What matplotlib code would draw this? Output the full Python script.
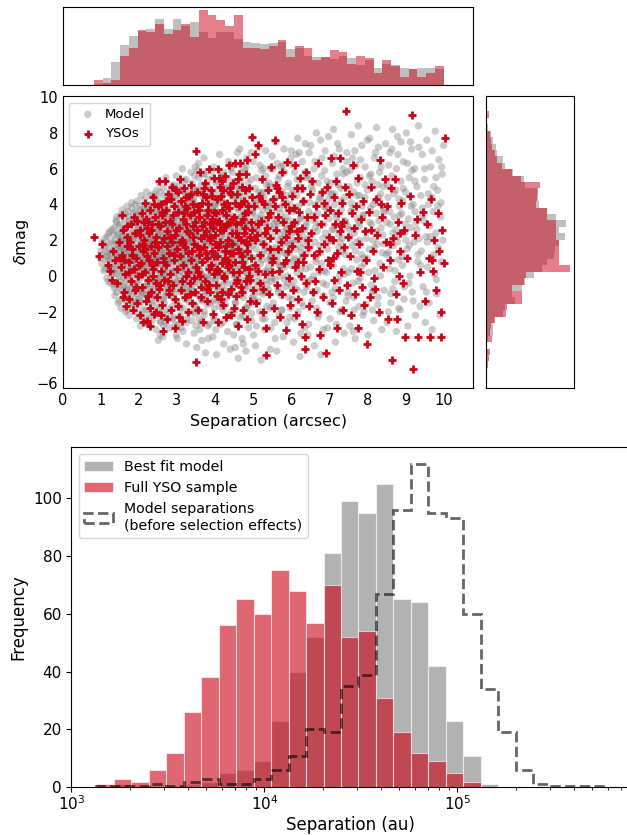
import matplotlib
matplotlib.use("Agg")
import matplotlib.pyplot as plt
import numpy as np

# ---- scatter: model points (separation in arcsec, delta mag) ----
model_points = [
    (0.98,1.0),(1.00,1.4),(1.02,0.7),(1.04,1.9),(1.06,1.2),(1.08,0.3),(1.10,1.6),(1.12,2.1),(1.14,0.9),(1.16,-0.1),
    (1.18,1.3),(1.20,2.4),(1.22,0.5),(1.24,1.8),(1.26,-0.4),(1.28,1.0),(1.30,2.6),(1.32,0.2),(1.34,1.5),(1.36,-0.7),
    (1.38,2.0),(1.39,0.8),
    (1.40,1.2),(1.41,3.0),(1.42,-0.9),(1.43,0.4),(1.44,2.3),(1.45,-1.5),(1.46,1.7),(1.47,0.0),(1.48,2.8),(1.49,0.9),
    (1.50,-0.3),(1.51,3.4),(1.52,1.4),(1.53,-1.8),(1.54,2.0),(1.55,0.6),(1.56,3.7),(1.57,-0.6),(1.58,1.0),(1.59,2.5),
    (1.60,-1.2),(1.61,0.2),(1.62,3.2),(1.63,1.9),(1.64,-2.0),(1.65,0.8),(1.66,2.7),(1.67,-0.2),(1.68,1.5),(1.69,3.9),
    (1.70,0.5),(1.71,-1.0),(1.72,2.2),(1.73,1.1),(1.74,-2.2),(1.75,3.1),(1.76,0.1),(1.77,1.8),(1.78,-0.7),(1.79,2.9),
    (1.80,1.3),(1.81,4.1),(1.82,-1.6),(1.83,0.7),(1.84,2.4),(1.85,-0.4),(1.86,3.5),(1.87,1.6),(1.88,-1.3),(1.89,0.3),
    (1.44,1.0),(1.52,2.1),(1.60,0.9),(1.68,-0.8),(1.76,2.0),(1.84,1.2),(1.48,1.6),(1.64,1.3),(1.80,0.4),(1.72,3.6),
    (1.90,2.1),(1.91,-0.5),(1.92,3.6),(1.93,0.8),(1.94,-2.4),(1.95,1.6),(1.96,4.2),(1.97,0.0),(1.98,2.7),(1.99,-1.3),
    (2.00,1.2),(2.01,3.3),(2.02,-0.2),(2.03,2.2),(2.04,-2.8),(2.05,0.6),(2.06,4.5),(2.07,1.9),(2.08,-0.9),(2.09,3.0),
    (2.10,0.3),(2.11,-1.9),(2.12,2.5),(2.13,1.0),(2.14,3.8),(2.15,-0.6),(2.16,1.7),(2.17,-2.6),(2.18,2.9),(2.19,0.4),
    (2.20,4.7),(2.21,1.4),(2.22,-1.1),(2.23,2.0),(2.24,-0.1),(2.25,3.5),(2.26,0.9),(2.27,-2.1),(2.28,2.6),(2.29,1.3),
    (2.30,4.0),(2.31,-0.7),(2.32,0.2),(2.33,3.1),(2.34,-1.6),(2.35,1.8),(2.36,2.4),(2.37,-0.3),(2.38,4.4),(2.39,1.1),
    (1.93,1.3),(1.97,2.4),(2.01,0.5),(2.05,-1.5),(2.09,1.6),(2.13,2.8),(2.17,0.7),(2.21,3.2),(2.25,-0.4),(2.29,2.1),
    (2.33,1.5),(2.37,0.6),(1.95,-1.0),(2.03,3.9),(2.11,-0.8),(2.19,1.9),(2.27,3.7),(2.35,-2.5),(1.99,0.1),(2.07,2.3),
    (2.15,1.2),(2.23,-2.7),
    (2.40,1.5),(2.41,-1.2),(2.42,3.9),(2.43,0.4),(2.44,2.7),(2.45,-3.0),(2.46,1.0),(2.47,4.8),(2.48,-0.5),(2.49,2.2),
    (2.50,0.9),(2.51,3.4),(2.52,-1.9),(2.53,1.7),(2.54,5.2),(2.55,-0.1),(2.56,2.5),(2.57,-2.6),(2.58,0.6),(2.59,4.1),
    (2.60,1.3),(2.61,-0.9),(2.62,3.0),(2.63,-3.4),(2.64,2.0),(2.65,0.2),(2.66,4.5),(2.67,-1.5),(2.68,1.1),(2.69,2.9),
    (2.70,-0.3),(2.71,5.5),(2.72,1.8),(2.73,-2.2),(2.74,0.7),(2.75,3.6),(2.76,-1.0),(2.77,2.3),(2.78,0.0),(2.79,4.3),
    (2.80,1.4),(2.81,-2.9),(2.82,2.8),(2.83,0.5),(2.84,-0.7),(2.85,3.2),(2.86,1.9),(2.87,-1.7),(2.88,5.0),(2.89,0.8),
    (2.42,2.1),(2.46,-0.2),(2.50,3.7),(2.54,1.2),(2.58,-1.3),(2.62,2.4),(2.66,0.3),(2.70,3.3),(2.74,-0.6),(2.78,1.6),
    (2.82,4.7),(2.86,-0.4),(2.44,0.9),(2.52,2.6),(2.60,-2.0),(2.68,3.8),(2.76,1.0),(2.84,2.1),(2.48,4.4),(2.56,-3.3),
    (2.64,1.5),(2.72,-1.1),(2.80,2.6),(2.88,-2.4),(2.45,3.1),(2.55,0.1),(2.65,-2.8),(2.75,2.0),(2.85,1.3),(2.51,-3.6),
    (2.90,2.4),(2.91,-1.0),(2.92,4.5),(2.93,0.3),(2.94,1.8),(2.95,-2.7),(2.96,3.3),(2.97,0.9),(2.98,5.6),(2.99,-0.4),
    (3.00,2.0),(3.01,-3.5),(3.02,1.2),(3.03,4.0),(3.04,-1.6),(3.05,2.7),(3.06,0.0),(3.07,5.1),(3.08,1.5),(3.09,-2.2),
    (3.10,3.6),(3.11,0.6),(3.12,-0.8),(3.13,2.3),(3.14,6.0),(3.15,1.0),(3.16,-3.1),(3.17,3.0),(3.18,-0.2),(3.19,4.7),
    (3.20,1.7),(3.21,-1.3),(3.22,2.6),(3.23,0.4),(3.24,5.4),(3.25,-3.8),(3.26,1.4),(3.27,3.9),(3.28,-0.6),(3.29,2.1),
    (3.30,0.8),(3.31,-2.0),(3.32,4.3),(3.33,1.9),(3.34,-1.1),(3.35,3.2),(3.36,0.1),(3.37,5.8),(3.38,2.5),(3.39,-2.5),
    (2.92,1.4),(2.96,-0.1),(3.00,3.8),(3.04,2.2),(3.08,-1.8),(3.12,1.1),(3.16,4.2),(3.20,-0.5),(3.24,2.8),(3.28,1.6),
    (3.32,-1.5),(3.36,3.5),(2.94,4.9),(3.02,-0.7),(3.10,2.9),(3.18,1.3),(3.26,-2.4),(3.34,0.5),(2.98,-3.3),(3.06,3.4),
    (3.14,0.2),(3.22,4.6),(3.30,-0.9),(3.38,1.0),(2.91,3.1),(3.01,1.7),(3.11,-2.9),(3.21,0.7),(3.31,2.4),(3.39,4.8),
    (3.40,1.9),(3.41,-0.8),(3.42,4.1),(3.43,0.5),(3.44,2.8),(3.45,-3.2),(3.46,1.2),(3.47,5.6),(3.48,-1.7),(3.49,3.3),
    (3.50,0.2),(3.51,2.4),(3.52,-4.0),(3.53,4.8),(3.54,1.0),(3.55,-0.4),(3.56,3.0),(3.57,6.3),(3.58,-2.4),(3.59,1.6),
    (3.60,0.7),(3.61,3.8),(3.62,-1.2),(3.63,2.2),(3.64,5.1),(3.65,-3.6),(3.66,0.0),(3.67,2.7),(3.68,4.4),(3.69,-0.6),
    (3.70,1.4),(3.71,6.6),(3.72,-2.0),(3.73,3.5),(3.74,0.9),(3.75,-4.3),(3.76,2.0),(3.77,4.9),(3.78,-1.0),(3.79,1.1),
    (3.80,3.1),(3.81,-2.8),(3.82,0.4),(3.83,5.4),(3.84,2.5),(3.85,-0.2),(3.86,1.8),(3.87,4.0),(3.88,-1.5),(3.89,0.6),
    (3.42,2.5),(3.46,-2.1),(3.50,3.7),(3.54,5.9),(3.58,0.3),(3.62,1.3),(3.66,-1.4),(3.70,3.2),(3.74,5.7),(3.78,2.3),
    (3.82,-3.5),(3.86,3.6),(3.44,0.8),(3.52,1.5),(3.60,-3.0),(3.68,2.9),(3.76,-0.9),(3.84,4.5),(3.48,6.1),(3.56,-1.9),
    (3.64,0.1),(3.72,1.9),(3.80,-0.1),(3.88,2.6),(3.45,4.2),(3.63,-2.6),
    (3.90,2.2),(3.91,-0.6),(3.92,4.6),(3.93,1.0),(3.94,-3.4),(3.95,3.1),(3.96,0.3),(3.97,6.1),(3.98,-1.8),(3.99,1.7),
    (4.00,4.0),(4.02,-0.2),(4.03,2.6),(4.04,-4.4),(4.06,5.3),(4.07,0.8),(4.08,3.4),(4.10,-1.3),(4.11,1.4),(4.12,6.8),
    (4.14,-2.7),(4.15,2.9),(4.16,0.0),(4.18,4.3),(4.19,-0.9),(4.20,1.9),(4.22,5.8),(4.23,-3.8),(4.24,3.6),(4.26,0.6),
    (4.27,2.3),(4.28,-1.6),(4.30,4.9),(4.31,1.2),(4.32,-0.4),(4.34,3.0),(4.35,6.4),(4.36,-2.2),(4.38,0.9),(4.39,2.7),
    (4.40,-4.1),(4.42,4.5),(4.43,1.5),(4.44,-1.0),(3.92,1.3),(3.96,-2.3),(4.01,3.8),(4.05,1.1),(4.09,-0.5),(4.13,2.2),
    (4.17,5.0),(4.21,-1.9),(4.25,1.6),(4.29,3.3),(4.33,-3.1),(4.37,2.0),(4.41,0.4),(3.94,5.5),(4.02,-3.0),(4.10,4.1),
    (4.18,2.5),(4.26,-0.8),(4.34,5.4),(4.42,2.8),(4.06,-1.4),(4.30,0.1),
    (4.45,2.0),(4.46,-0.7),(4.47,4.4),(4.48,1.2),(4.49,-3.3),(4.50,3.1),(4.52,0.4),(4.53,6.2),(4.54,-1.5),(4.56,2.5),
    (4.57,5.0),(4.58,-0.1),(4.60,1.6),(4.61,-4.6),(4.62,3.7),(4.64,0.9),(4.65,7.1),(4.66,-2.3),(4.68,2.2),(4.69,4.7),
    (4.70,-0.9),(4.72,1.3),(4.73,3.4),(4.74,-3.8),(4.76,5.6),(4.77,0.2),(4.78,2.8),(4.80,-1.8),(4.81,4.1),(4.82,1.0),
    (4.84,6.6),(4.85,-0.4),(4.86,2.4),(4.88,-2.9),(4.89,3.9),(4.47,1.8),(4.51,-2.0),(4.55,3.3),(4.59,1.9),(4.63,-0.5),
    (4.67,5.3),(4.71,2.6),(4.75,-1.2),(4.79,0.7),(4.83,3.0),(4.87,5.2),(4.49,0.0),(4.57,2.9),(4.65,-1.1),(4.73,4.4),
    (4.81,-4.2),(4.89,1.5),(4.53,-4.0),(4.61,4.3),(4.69,0.6),(4.77,6.0),(4.85,1.9),(4.45,5.8),(4.55,-2.7),(4.67,1.4),
    (4.79,3.6),(4.87,-1.6),(4.59,6.9),(4.71,-3.5),(4.83,-0.2),
    (4.90,2.7),(4.91,-0.3),(4.93,4.9),(4.94,1.1),(4.96,-2.5),(4.97,3.5),(4.99,0.5),(5.00,6.4),(5.02,-1.4),(5.03,2.1),
    (5.05,4.2),(5.06,-3.9),(5.08,1.5),(5.09,5.5),(5.11,-0.6),(5.12,3.0),(5.14,0.0),(5.15,7.2),(5.17,-2.0),(5.18,2.4),
    (5.20,4.6),(5.21,-4.7),(5.23,1.2),(5.24,3.7),(5.26,-1.0),(5.27,6.0),(5.29,1.8),(5.30,-3.0),(5.32,2.9),(5.33,0.3),
    (5.35,5.1),(5.36,-1.7),(5.38,3.9),(5.39,0.9),(4.92,1.8),(4.98,4.0),(5.04,0.2),(5.10,2.8),(5.16,-0.9),(5.22,5.9),
    (5.28,4.4),(5.34,-0.2),(4.95,6.9),(5.01,-3.3),(5.07,3.3),(5.13,1.9),(5.19,0.7),(5.25,2.3),(5.31,-2.4),(5.37,1.4),
    (4.97,-1.2),(5.09,-2.8),(5.21,3.2),(5.33,7.0),(5.15,4.7),
    (5.40,2.2),(5.41,-0.8),(5.43,5.0),(5.44,1.0),(5.46,3.4),(5.47,-2.9),(5.49,0.3),(5.50,6.7),(5.52,2.6),(5.53,-1.5),
    (5.55,4.3),(5.56,1.5),(5.58,-0.2),(5.59,7.5),(5.61,3.0),(5.62,-4.2),(5.64,0.8),(5.65,5.4),(5.67,2.0),(5.68,-2.2),
    (5.70,3.8),(5.71,0.0),(5.73,6.1),(5.74,-1.1),(5.76,1.7),(5.77,4.7),(5.79,-3.4),(5.80,2.5),(5.82,0.5),(5.83,5.8),
    (5.85,-0.6),(5.86,3.3),(5.88,1.2),(5.89,-2.6),(5.42,4.1),(5.48,-0.3),(5.54,2.9),(5.60,5.1),(5.66,-0.9),(5.72,2.3),
    (5.78,4.0),(5.84,1.9),(5.45,-4.1),(5.51,1.3),(5.57,3.7),(5.63,6.3),(5.69,0.6),(5.75,-1.9),(5.81,7.1),(5.87,4.5),
    (5.46,6.0),(5.58,-3.5),(5.70,1.4),(5.82,3.1),
    (5.90,2.8),(5.91,-0.4),(5.93,5.2),(5.94,1.3),(5.96,-2.3),(5.97,4.0),(5.99,0.6),(6.00,7.0),(6.02,2.0),(6.03,-1.3),
    (6.05,3.6),(6.06,-3.7),(6.08,1.0),(6.09,5.8),(6.11,2.9),(6.12,-0.7),(6.14,4.5),(6.15,0.2),(6.17,7.7),(6.18,-2.0),
    (6.20,2.4),(6.21,5.0),(6.23,-4.5),(6.24,1.6),(6.26,3.3),(6.27,-0.1),(6.29,6.4),(6.30,1.1),(6.32,-1.7),(6.33,4.2),
    (6.35,2.6),(6.36,-2.9),(6.38,0.4),(6.39,5.5),(5.92,3.7),(5.98,-1.8),(6.04,6.2),(6.10,1.9),(6.16,3.0),(6.22,0.9),
    (6.28,4.8),(6.34,-0.9),(5.95,1.7),(6.01,4.6),(6.07,-0.3),(6.13,6.8),(6.19,3.9),(6.25,-3.2),(6.31,2.2),(6.37,7.4),
    (6.06,2.5),(6.28,1.3),
    (6.40,3.0),(6.41,-0.6),(6.43,5.6),(6.45,1.4),(6.46,-2.7),(6.48,4.1),(6.50,0.5),(6.51,7.3),(6.53,2.3),(6.55,-1.4),
    (6.56,4.8),(6.58,0.0),(6.60,6.0),(6.61,-3.9),(6.63,2.7),(6.65,1.0),(6.66,8.0),(6.68,-0.8),(6.70,3.5),(6.71,5.2),
    (6.73,-2.1),(6.75,1.7),(6.76,4.4),(6.78,-4.4),(6.80,0.7),(6.81,6.6),(6.83,2.1),(6.85,-1.1),(6.86,3.9),(6.88,5.9),
    (6.42,2.0),(6.47,6.9),(6.52,-0.2),(6.57,3.4),(6.62,1.9),(6.67,-1.8),(6.72,2.9),(6.77,7.6),(6.82,4.7),(6.87,0.3),
    (6.44,-3.3),(6.54,5.3),(6.64,4.0),(6.74,0.2),(6.84,-3.0),(6.69,1.2),
    (6.90,2.4),(6.92,-0.5),(6.94,5.3),(6.96,1.5),(6.98,7.8),(7.00,3.2),(7.02,-2.4),(7.04,0.8),(7.06,4.6),(7.08,6.3),
    (7.10,-1.2),(7.12,2.6),(7.14,4.0),(7.16,-3.7),(7.18,1.1),(7.20,5.7),(7.22,3.0),(7.24,-0.3),(7.26,7.1),(7.28,1.9),
    (7.30,4.9),(7.32,-1.9),(7.34,2.9),(7.36,6.0),(7.38,0.4),(6.91,3.8),(6.95,-2.9),(6.99,4.3),(7.03,2.0),(7.07,-0.9),
    (7.11,8.2),(7.15,3.5),(7.19,-2.7),(7.23,5.1),(7.27,0.0),(7.31,3.7),(7.35,1.4),(7.39,-3.2),(7.13,6.7),(7.25,2.3),
    (7.40,4.4),(7.42,1.2),(7.44,-1.4),(7.46,6.9),(7.48,2.8),(7.50,0.2),(7.52,5.0),(7.54,-2.8),(7.56,3.6),(7.58,7.9),
    (7.60,1.7),(7.62,-0.4),(7.64,4.7),(7.66,2.4),(7.68,-3.5),(7.70,6.2),(7.72,0.9),(7.74,3.2),(7.76,8.4),(7.78,-1.7),
    (7.80,2.0),(7.82,5.5),(7.84,0.5),(7.86,3.9),(7.88,-2.2),(7.41,3.1),(7.45,5.8),(7.49,-0.9),(7.53,2.2),(7.57,4.1),
    (7.61,6.6),(7.65,-1.9),(7.69,1.4),(7.73,5.2),(7.77,3.0),(7.81,-0.1),(7.85,7.3),(7.89,1.0),(7.63,-3.1),(7.79,4.5),
    (7.90,3.4),(7.92,0.7),(7.94,6.1),(7.96,-1.6),(7.98,2.5),(8.00,4.8),(8.02,-3.3),(8.04,1.5),(8.06,7.7),(8.08,3.8),
    (8.10,-0.5),(8.12,5.3),(8.14,2.0),(8.16,-2.5),(8.18,6.6),(8.20,0.3),(8.22,4.2),(8.24,8.3),(8.26,1.8),(8.28,-1.2),
    (8.30,3.1),(8.32,5.8),(8.34,0.0),(8.36,2.7),(8.38,-3.0),(7.93,4.4),(7.99,1.0),(8.05,5.6),(8.11,2.9),(8.17,-0.8),
    (8.23,3.5),(8.29,7.2),(8.35,4.6),(8.39,1.3),(8.13,-1.9),(8.27,5.1),
    (8.40,2.3),(8.42,5.0),(8.44,-0.8),(8.46,3.7),(8.48,7.4),(8.50,1.2),(8.52,-2.6),(8.54,4.4),(8.56,6.2),(8.58,0.4),
    (8.60,2.9),(8.62,-1.5),(8.64,5.6),(8.66,8.2),(8.68,1.7),(8.70,3.3),(8.72,-0.3),(8.74,4.8),(8.76,-3.1),(8.78,2.2),
    (8.80,6.8),(8.82,0.9),(8.84,3.9),(8.86,-1.9),(8.88,5.3),(8.43,1.8),(8.51,3.0),(8.59,6.9),(8.67,-0.7),(8.75,2.6),
    (8.83,4.3),(8.55,-2.0),(8.79,7.8),
    (8.90,3.5),(8.92,0.6),(8.94,6.4),(8.96,-1.3),(8.98,2.4),(9.00,4.7),(9.02,8.0),(9.04,1.5),(9.06,-2.8),(9.08,3.2),
    (9.10,5.5),(9.12,0.0),(9.14,2.7),(9.16,7.1),(9.18,-0.9),(9.20,4.0),(9.22,1.9),(9.24,6.0),(9.26,-2.2),(9.28,3.0),
    (9.30,5.0),(9.32,0.8),(9.34,8.4),(9.36,2.1),(9.38,-1.7),(8.93,4.2),(9.01,2.0),(9.09,-0.4),(9.17,5.9),(9.25,3.6),
    (9.33,1.2),(9.13,7.5),
    (9.40,4.5),(9.42,1.4),(9.44,6.8),(9.46,-0.6),(9.48,3.1),(9.50,5.4),(9.52,-2.6),(9.54,2.2),(9.56,7.6),(9.58,0.5),
    (9.60,4.0),(9.62,-1.5),(9.64,2.8),(9.66,6.1),(9.68,1.0),(9.70,-3.0),(9.72,3.6),(9.74,5.0),(9.76,0.1),(9.78,8.1),
    (9.80,2.4),(9.82,-1.0),(9.84,4.8),(9.86,1.6),(9.88,6.5),(9.90,-2.2),(9.92,3.3),(9.94,0.8),(9.96,5.7),(9.98,2.0),
    (10.00,7.3),(9.45,3.8),(9.57,1.9),(9.69,4.4),(9.81,-0.2),(9.93,4.1),
]

# more model points where the cloud is densest
model_points_dense = [
    (1.11,0.4),(1.13,1.7),(1.15,1.1),(1.17,2.2),(1.19,-0.3),(1.21,0.9),(1.23,1.4),(1.25,2.5),(1.27,0.1),(1.29,1.9),
    (1.31,0.6),(1.33,-0.5),(1.34,2.3),(1.26,1.2),
    (1.35,0.4),(1.36,2.7),(1.37,-1.1),(1.38,1.3),(1.40,3.1),(1.41,0.1),(1.43,1.8),(1.44,-0.5),(1.46,2.4),(1.47,1.1),
    (1.49,-1.4),(1.50,0.7),(1.52,2.9),(1.53,1.6),(1.55,-0.8),(1.56,0.3),(1.57,2.2),(1.58,1.4),(1.59,-0.1),(1.42,3.3),
    (1.60,1.8),(1.61,-0.5),(1.62,2.6),(1.63,0.6),(1.64,3.5),(1.65,-1.4),(1.66,1.2),(1.67,2.1),(1.68,0.0),(1.69,-1.9),
    (1.70,2.9),(1.71,1.6),(1.72,-0.6),(1.73,0.9),(1.74,3.3),(1.75,1.9),(1.77,-1.1),(1.78,0.4),(1.79,2.4),(1.80,-0.1),
    (1.81,1.0),(1.82,3.8),(1.83,2.0),(1.84,-1.5),
    (1.85,1.4),(1.86,0.2),(1.87,3.0),(1.88,-0.9),(1.89,2.2),(1.90,4.0),(1.91,0.8),(1.92,-1.7),(1.93,2.6),(1.94,1.1),
    (1.95,-0.4),(1.96,3.4),(1.97,1.8),(1.98,-2.1),(1.99,0.5),(2.00,2.9),(2.01,-0.8),(2.02,1.5),(2.03,3.7),(2.04,0.0),
    (2.05,2.4),(2.06,-1.2),(2.07,1.1),(2.08,3.2),(2.09,-2.3),(2.10,1.9),
    (2.11,0.7),(2.12,3.6),(2.13,-1.0),(2.14,2.1),(2.15,0.3),(2.16,4.3),(2.17,1.5),(2.18,-1.9),(2.19,2.7),(2.20,0.9),
    (2.21,-0.5),(2.22,3.9),(2.23,1.2),(2.24,2.4),(2.25,-2.4),(2.26,0.5),(2.27,3.1),(2.28,1.7),(2.29,-0.9),(2.30,2.2),
    (2.31,4.5),(2.32,0.0),(2.33,1.9),(2.34,-1.4),(2.35,3.4),(2.28,0.8),
    (2.36,1.0),(2.37,2.9),(2.38,-0.7),(2.39,4.6),(2.40,2.0),(2.41,0.3),(2.42,-2.2),(2.43,3.5),(2.44,1.4),(2.45,-0.2),
    (2.46,2.6),(2.47,4.1),(2.48,0.7),(2.49,-1.6),(2.50,1.9),(2.51,3.0),(2.52,-0.4),(2.53,2.3),(2.54,0.9),(2.55,4.7),
    (2.56,-2.5),(2.57,1.3),(2.58,3.3),(2.59,0.1),(2.60,2.7),(2.47,-1.0),
    (2.61,3.8),(2.62,0.6),(2.63,2.2),(2.64,-1.3),(2.65,4.9),(2.66,1.5),(2.67,-0.1),(2.68,2.9),(2.69,0.4),(2.70,-2.6),
    (2.71,3.4),(2.72,1.0),(2.73,4.2),(2.74,-0.6),(2.75,1.8),(2.76,2.6),(2.77,-1.9),(2.78,0.8),(2.79,3.7),(2.80,2.3),
    (2.81,-0.3),(2.82,1.3),(2.83,4.5),(2.84,0.2),(2.85,-1.1),(2.73,2.0),
    (2.86,2.8),(2.87,0.9),(2.88,-0.8),(2.89,4.0),(2.90,1.6),(2.91,5.1),(2.92,-2.3),(2.93,2.2),(2.94,0.2),(2.95,3.5),
    (2.96,1.2),(2.97,-1.4),(2.98,2.7),(2.99,4.5),(3.00,0.6),(3.01,-0.3),(3.02,3.1),(3.03,1.9),(3.04,-2.7),(3.05,1.0),
    (3.06,4.2),(3.07,2.4),(3.08,-0.9),(3.09,0.3),(3.10,3.7),(2.97,1.6),
    (3.11,1.8),(3.12,4.8),(3.13,-0.4),(3.14,2.9),(3.15,0.7),(3.16,-1.8),(3.17,3.6),(3.18,1.1),(3.19,2.2),(3.20,5.3),
    (3.21,-0.9),(3.22,0.4),(3.23,3.3),(3.24,1.5),(3.25,-2.6),(3.26,2.6),(3.27,4.4),(3.28,0.0),(3.29,1.9),(3.30,-1.2),
    (3.31,3.0),(3.32,0.9),(3.33,4.0),(3.34,2.4),(3.35,-0.2),(3.22,1.4),
    (3.36,2.0),(3.37,-0.7),(3.38,3.8),(3.39,1.0),(3.40,5.2),(3.41,0.2),(3.42,-2.0),(3.43,2.6),(3.44,4.4),(3.45,1.5),
    (3.46,-0.4),(3.47,3.1),(3.48,0.6),(3.49,2.3),(3.50,-2.8),(3.51,4.8),(3.52,1.8),(3.53,-1.0),(3.54,3.4),(3.55,0.9),
    (3.56,2.1),(3.57,5.5),(3.58,-0.1),(3.59,1.3),(3.60,3.9),(3.47,-1.6),
    (3.61,2.5),(3.62,0.3),(3.63,4.6),(3.64,-1.3),(3.65,1.6),(3.66,3.3),(3.67,-0.3),(3.68,2.0),(3.69,5.7),(3.70,0.8),
    (3.71,-2.2),(3.72,3.0),(3.73,1.2),(3.74,4.2),(3.75,-0.8),(3.76,2.7),(3.77,0.0),(3.78,3.6),(3.79,1.9),(3.80,-1.6),
    (3.81,5.0),(3.82,0.5),(3.83,2.3),(3.84,-2.7),(3.85,3.8),
    (3.86,1.1),(3.87,4.4),(3.88,-0.5),(3.89,2.6),(3.90,0.2),(3.91,5.9),(3.92,1.7),(3.93,-1.4),(3.94,3.2),(3.95,0.8),
    (3.96,2.1),(3.97,-2.5),(3.98,4.0),(3.99,1.3),(4.00,-0.2),(4.01,2.9),(4.02,5.2),(4.03,0.5),(4.04,-1.0),(4.05,3.5),
    (4.06,1.9),(4.07,-0.8),(4.08,2.4),(4.09,4.7),
    (4.11,0.1),(4.12,3.0),(4.13,-1.7),(4.14,1.6),(4.15,4.3),(4.16,2.2),(4.17,-0.6),(4.18,5.6),(4.19,0.9),(4.20,3.4),
    (4.21,-2.6),(4.22,1.3),(4.23,2.6),(4.24,4.6),(4.25,-0.3),(4.27,0.6),(4.28,3.8),(4.29,1.9),(4.30,-1.2),(4.31,2.8),
    (4.33,5.0),(4.34,0.3),
    (4.36,1.7),(4.37,-0.9),(4.38,3.5),(4.39,0.5),(4.40,2.3),(4.41,6.0),(4.42,-2.0),(4.43,1.1),(4.44,4.0),(4.46,2.7),
    (4.47,-0.4),(4.48,0.8),(4.49,3.2),(4.51,5.3),(4.52,1.5),(4.53,-1.5),(4.54,2.0),(4.55,4.5),(4.56,0.0),(4.57,3.8),
    (4.58,-2.7),(4.59,1.2),
    (4.61,2.6),(4.62,0.4),(4.63,4.9),(4.64,-1.0),(4.66,1.9),(4.67,3.3),(4.68,-0.2),(4.69,5.8),(4.70,1.0),(4.72,2.9),
    (4.73,-2.2),(4.74,0.7),(4.75,4.2),(4.77,1.6),(4.78,-0.7),(4.79,3.5),(4.80,2.2),(4.82,6.1),(4.83,0.2),(4.84,-1.8),
    (4.86,3.1),(4.87,1.3),(4.89,-0.6),(4.90,4.5),(4.92,2.1),(4.93,0.0),(4.95,5.4),(4.96,-2.1),(4.98,1.7),(4.99,3.6),
    (5.01,0.6),(5.02,-1.1),(5.04,2.6),(5.05,4.9),(5.07,1.0),(5.08,-0.3),(5.09,3.9),(5.10,2.3),
    (5.11,0.4),(5.12,4.2),(5.14,-1.4),(5.15,2.7),(5.17,1.2),(5.18,6.2),(5.20,-0.4),(5.21,3.4),(5.23,0.9),(5.24,-2.4),
    (5.26,2.0),(5.27,4.7),(5.29,1.5),(5.30,-0.9),(5.32,3.0),(5.33,5.6),(5.34,0.2),(5.35,2.4),
    (5.36,1.7),(5.37,-0.5),(5.39,3.7),(5.40,0.5),(5.42,5.2),(5.43,2.8),(5.45,-1.8),(5.46,1.1),(5.48,4.1),(5.49,-0.1),
    (5.51,2.2),(5.52,6.0),(5.54,0.8),(5.55,3.2),(5.57,-2.6),(5.59,1.6),
    (5.61,4.4),(5.63,1.1),(5.65,-0.7),(5.67,2.9),(5.69,5.6),(5.71,0.5),(5.73,3.5),(5.75,-1.9),(5.77,2.1),(5.79,6.2),
    (5.81,1.3),(5.83,-0.2),(5.85,4.2),(5.87,2.6),(5.89,0.0),(5.91,5.0),(5.93,-1.2),(5.95,3.1),(5.97,1.8),(5.99,6.6),
    (6.01,-0.6),(6.03,2.4),(6.05,4.8),(6.07,0.9),(6.09,-2.4),(6.11,3.8),(6.13,1.5),(6.15,5.4),(6.17,-0.8),(6.19,2.0),
    (6.21,6.9),(6.23,3.2),(6.25,0.4),(6.27,-1.5),(6.30,4.1),(6.33,1.8),(6.36,5.8),(6.39,2.8),(6.42,-0.3),(6.46,3.6),
    (6.50,1.6),(6.53,5.0),(6.56,-0.9),(6.59,3.1),(6.62,6.4),(6.65,0.8),(6.68,2.5),(6.71,-2.3),(6.74,4.3),(6.77,1.3),
    (6.80,5.6),(6.83,-0.4),(6.86,2.9),(6.89,7.0),(6.92,0.2),(6.95,3.9),(6.98,1.9),(7.01,-1.5),(7.04,5.2),(7.07,2.6),
    (7.10,0.6),(7.13,4.6),(7.16,-0.7),(7.19,3.3),(7.22,7.4),(7.25,1.6),(7.28,-2.0),(7.31,4.2),(7.34,2.1),(7.37,5.7),
    (7.40,0.1),(7.43,3.0),(7.46,6.4),(7.49,-1.1),(6.97,4.7),
    (7.52,2.6),(7.55,5.9),(7.58,0.4),(7.61,3.8),(7.64,-1.2),(7.67,7.0),(7.70,1.9),(7.73,4.5),(7.76,-0.3),(7.79,2.8),
    (7.82,6.5),(7.85,1.2),(7.88,3.4),(7.91,-2.0),(7.94,5.1),(7.97,2.1),(8.00,7.6),(8.03,0.2),(8.06,3.0),(8.09,5.7),
    (8.12,-0.9),(8.15,4.0),(8.18,1.6),(8.21,6.9),(8.24,2.5),(8.27,-1.6),(8.30,4.4),(8.33,0.7),(8.36,6.1),(8.42,3.6),
    (8.52,5.1),(8.55,1.3),(8.58,3.6),(8.61,-1.0),(8.64,7.1),(8.67,2.4),(8.70,4.6),(8.73,0.3),(8.76,6.0),(8.79,1.9),
    (8.82,-1.8),(8.85,3.4),(8.88,7.5),(8.91,1.1),(8.94,4.9),(8.97,-0.6),(9.00,2.9),(9.05,6.3),(9.10,1.7),(9.15,3.9),
    (9.20,-1.4),(9.25,5.3),(9.30,2.6),(9.35,7.2),(9.40,0.6),(9.45,3.4),(9.50,6.0),(9.55,-0.9),(9.60,4.6),(9.65,2.2),
    (9.70,7.0),(9.75,1.2),(9.80,5.5),(9.85,3.9),(9.95,6.1),
]

# ---- scatter: YSO pairs ----
yso_points = [
    (0.82,2.2),(0.96,1.1),(1.04,1.8),(1.18,0.6),(1.24,0.3),(1.32,1.4),(1.42,-0.4),(1.38,0.9),(1.47,1.9),(1.29,-0.2),
    (1.56,3.4),(1.59,2.6),(1.52,0.5),(1.55,1.2),(1.61,-0.9),(1.64,0.1),(1.68,1.7),(1.70,2.2),(1.73,-1.3),(1.75,0.8),
    (1.78,2.9),(1.80,-0.3),(1.83,1.5),(1.85,-1.9),(1.87,0.4),(1.90,2.4),(1.92,1.0),(1.94,-1.5),(1.96,3.1),(1.98,0.0),
    (1.66,-1.7),(1.77,1.9),(1.89,-0.8),(1.58,-1.2),
    (2.02,2.6),(2.03,-2.2),(2.05,0.7),(2.07,3.5),(2.08,-0.6),(2.10,1.4),(2.12,-2.6),(2.13,2.0),(2.15,4.1),(2.16,0.2),
    (2.18,-1.4),(2.20,-2.5),(2.21,1.1),(2.23,3.0),(2.24,-0.2),(2.26,2.4),(2.27,0.9),(2.29,-1.8),(2.30,3.7),(2.32,1.7),
    (2.33,-0.9),(2.35,2.9),(2.36,0.4),(2.38,4.4),(2.39,-2.1),(2.41,1.3),(2.42,3.3),(2.44,-0.4),(2.45,2.2),(2.47,0.8),
    (2.48,-1.2),(2.49,3.9),(2.11,1.8),(2.19,3.2),(2.28,-2.8),(2.37,0.0),(2.22,2.7),(2.46,-2.0),
    (2.51,1.6),(2.53,5.3),(2.54,-0.7),(2.56,2.8),(2.57,0.3),(2.59,4.0),(2.60,-1.6),(2.62,3.4),(2.63,1.0),(2.64,-3.1),
    (2.66,2.1),(2.67,-0.2),(2.69,5.3),(2.70,3.7),(2.72,0.6),(2.73,-2.4),(2.75,2.5),(2.76,4.6),(2.78,1.3),(2.79,-1.0),
    (2.81,3.1),(2.82,0.1),(2.84,4.3),(2.85,-1.9),(2.87,1.9),(2.88,2.9),(2.90,-0.5),(2.91,3.9),(2.93,0.9),(2.94,-2.9),
    (2.96,2.3),(2.97,4.8),(2.99,1.5),(2.58,-2.2),(2.68,3.0),(2.77,-0.3),(2.86,5.0),(2.95,-1.3),(2.61,1.9),(2.83,2.2),
    (3.01,0.4),(3.02,3.6),(3.04,-1.7),(3.05,2.7),(3.07,5.4),(3.08,1.1),(3.10,-0.8),(3.11,4.2),(3.13,2.0),(3.14,-2.5),
    (3.16,3.2),(3.17,0.6),(3.19,4.9),(3.20,1.6),(3.22,-1.2),(3.23,2.9),(3.25,0.0),(3.26,3.8),(3.28,-2.0),(3.29,1.3),
    (3.31,4.5),(3.32,2.4),(3.34,-0.4),(3.35,3.4),(3.37,0.9),(3.38,5.1),(3.40,-1.5),(3.41,2.2),(3.43,4.0),(3.44,1.8),
    (3.46,-0.1),(3.47,3.0),(3.49,0.5),(3.50,7.0),(3.51,-4.8),(3.06,-2.3),(3.15,1.9),(3.24,4.4),(3.33,-1.0),(3.42,2.8),
    (3.18,3.5),
    (3.52,2.6),(3.53,4.7),(3.55,0.2),(3.56,-1.9),(3.58,3.3),(3.59,1.2),(3.61,5.8),(3.62,-0.6),(3.64,2.1),(3.65,4.1),
    (3.67,0.8),(3.68,-2.6),(3.70,3.0),(3.71,1.6),(3.73,5.2),(3.74,-0.3),(3.76,2.5),(3.77,4.4),(3.79,1.0),(3.80,-1.4),
    (3.82,3.7),(3.83,0.4),(3.85,6.0),(3.86,2.0),(3.88,-0.9),(3.89,4.8),(3.91,1.4),(3.92,3.2),(3.94,-2.1),(3.95,2.7),
    (3.97,0.1),(3.98,5.5),(3.99,1.8),(3.54,3.9),(3.63,-1.2),(3.72,2.3),(3.81,4.0),(3.90,0.6),(3.60,1.5),(3.69,4.6),
    (3.78,-0.7),(3.87,2.9),(3.96,3.6),
    (4.01,2.3),(4.02,-0.5),(4.04,4.3),(4.05,1.1),(4.07,6.0),(4.08,-2.6),(4.10,3.1),(4.11,0.3),(4.13,5.0),(4.14,1.9),
    (4.16,-1.3),(4.17,3.7),(4.19,0.7),(4.20,4.8),(4.22,2.6),(4.23,-0.1),(4.25,1.4),(4.26,5.6),(4.28,-2.3),(4.29,3.4),
    (4.31,0.9),(4.32,4.1),(4.34,2.0),(4.35,-1.0),(4.37,6.2),(4.38,1.3),(4.40,3.0),(4.41,-0.7),(4.43,4.6),(4.44,2.4),
    (4.46,0.2),(4.47,5.2),(4.49,-1.8),(4.03,3.5),(4.09,1.6),(4.15,4.5),(4.21,-1.6),(4.27,2.8),(4.33,0.5),(4.39,4.9),
    (4.45,1.8),(4.06,-1.1),(4.12,2.9),(4.18,5.3),(4.24,0.0),(4.30,1.7),(4.36,3.8),(4.42,-2.2),
    (4.50,3.3),(4.52,0.8),(4.53,6.3),(4.55,-1.1),(4.56,2.4),(4.58,4.6),(4.59,-2.8),(4.61,1.5),(4.62,3.9),(4.64,0.2),
    (4.65,6.3),(4.67,2.0),(4.68,-0.6),(4.70,5.0),(4.71,1.1),(4.73,3.2),(4.74,-1.9),(4.76,4.2),(4.77,0.5),(4.79,2.7),
    (4.80,5.7),(4.82,-0.3),(4.83,-2.4),(4.85,1.8),(4.86,3.6),(4.88,0.0),(4.89,4.9),(4.91,2.2),(4.92,-1.4),(4.94,3.0),
    (4.95,1.0),(4.96,7.8),(4.98,4.4),(4.99,-0.8),(4.54,2.9),(4.60,5.4),(4.66,1.3),(4.72,-0.9),(4.78,3.5),(4.84,6.5),
    (4.90,0.4),(4.97,2.6),(4.57,-0.2),(4.69,4.0),(4.81,1.9),
    (5.02,3.9),(5.04,0.6),(5.06,6.8),(5.08,-1.5),(5.10,2.3),(5.13,7.3),(5.15,4.5),(5.17,1.2),(5.19,-0.4),(5.21,3.1),
    (5.23,5.4),(5.25,-2.0),(5.27,1.8),(5.29,4.0),(5.31,0.1),(5.33,-2.9),(5.35,-4.4),(5.37,2.7),(5.39,4.8),(5.41,-1.0),
    (5.43,1.5),(5.45,3.5),(5.47,6.1),(5.49,0.8),(5.12,2.9),(5.26,-0.7),(5.44,2.1),
    (5.51,4.3),(5.53,1.0),(5.55,-1.8),(5.57,7.6),(5.59,2.6),(5.61,5.1),(5.63,-0.5),(5.65,3.3),(5.67,0.3),(5.69,4.7),
    (5.71,-2.3),(5.73,1.9),(5.75,5.8),(5.77,-1.0),(5.79,3.0),(5.81,0.7),(5.83,4.0),(5.85,-3.0),(5.87,2.2),(5.89,6.4),
    (5.91,1.4),(5.93,-0.1),(5.95,3.7),(5.97,-1.6),(5.99,2.8),(5.62,4.9),
    (6.01,1.7),(6.03,4.5),(6.05,-0.8),(6.07,3.0),(6.09,6.2),(6.11,0.5),(6.13,-2.2),(6.15,4.9),(6.17,2.1),(6.19,-1.3),
    (6.21,3.6),(6.23,5.5),(6.25,0.0),(6.27,2.7),(6.29,-2.7),(6.31,4.2),(6.33,1.2),(6.35,-4.1),(6.36,-3.4),(6.38,5.8),
    (6.40,-0.4),(6.42,3.3),(6.44,1.6),(6.46,-1.7),(6.48,4.6),(6.14,2.5),(6.32,0.8),
    (6.52,2.4),(6.55,5.3),(6.58,-0.9),(6.61,1.2),(6.64,3.9),(6.67,-2.0),(6.70,6.3),(6.73,0.4),(6.75,-3.3),(6.77,2.9),
    (6.80,4.7),(6.83,-1.2),(6.86,1.8),(6.88,3.4),(6.91,-4.3),(6.93,5.0),(6.96,0.9),(6.98,2.2),(6.62,-0.3),
    (7.01,3.7),(7.03,0.6),(7.05,6.6),(7.07,-1.5),(7.09,2.0),(7.11,4.4),(7.13,-0.2),(7.15,2.9),(7.17,5.3),(7.19,-2.9),
    (7.21,1.3),(7.23,3.5),(7.25,-0.8),(7.27,2.5),(7.29,6.6),(7.31,0.2),(7.33,4.1),(7.35,-1.9),(7.37,3.0),(7.39,1.6),
    (7.41,5.0),(7.44,9.2),(7.46,-0.5),(7.48,2.2),
    (7.52,4.6),(7.55,1.1),(7.58,-2.2),(7.61,6.2),(7.64,2.7),(7.67,-1.0),(7.70,3.9),(7.72,0.3),(7.74,-2.9),(7.76,5.5),
    (7.79,1.8),(7.82,3.2),(7.85,-0.6),(7.88,4.2),(7.90,-1.6),(7.93,2.5),(7.96,0.9),(7.98,-3.8),
    (8.03,3.6),(8.07,-1.2),(8.10,5.0),(8.14,1.4),(8.18,-0.1),(8.22,4.3),(8.26,2.3),(8.30,-2.0),(8.34,6.5),(8.38,3.3),
    (8.42,0.5),(8.45,5.4),(8.48,1.9),(8.20,-0.7),
    (8.52,3.9),(8.55,-2.4),(8.58,0.9),(8.62,4.9),(8.65,-4.7),(8.68,2.1),(8.72,5.4),(8.75,-1.0),(8.77,-2.4),(8.80,3.0),
    (8.83,0.0),(8.86,1.4),(8.89,4.1),(8.93,-0.4),(8.96,2.6),(8.98,-3.4),
    (9.05,1.0),(9.12,4.5),(9.17,9.0),(9.20,-5.2),(9.26,2.3),(9.33,-3.4),(9.39,0.2),(9.45,3.6),
    (9.52,-1.4),(9.57,2.9),(9.61,1.0),(9.64,-3.4),(9.68,4.3),(9.72,0.3),(9.76,2.0),(9.80,-0.8),(9.84,3.5),(9.88,1.4),
    (9.92,-2.0),(9.94,-3.4),(9.97,2.6),(10.03,7.7),(10.00,0.7),
    (1.62,0.9),(1.69,2.8),(1.74,0.2),(1.81,1.2),(1.86,3.3),(1.93,-0.6),(1.99,1.7),
    (2.04,2.3),(2.09,0.1),(2.14,3.0),(2.17,1.5),(2.25,-1.1),(2.31,2.6),(2.34,0.6),(2.40,4.0),(2.43,1.9),
    (2.50,2.9),(2.55,-0.5),(2.60,3.6),(2.65,0.8),(2.71,4.2),(2.74,1.7),(2.80,-0.8),(2.89,3.4),(2.92,1.2),(2.98,2.6),
    (3.03,4.7),(3.09,1.9),(3.12,-0.3),(3.21,3.9),(3.27,2.5),(3.30,0.2),(3.36,4.6),(3.39,1.4),(3.45,3.6),(3.48,-0.9),
    (3.53,1.7),(3.57,3.7),(3.60,0.0),(3.66,2.8),(3.70,4.9),(3.75,1.3),(3.79,3.4),(3.84,-0.5),(3.88,2.2),(3.93,4.5),
    (3.97,1.1),(4.02,3.0),(4.06,0.4),(4.10,5.5),(4.14,2.6),(4.19,-0.9),(4.23,4.0),(4.27,1.0),(4.32,2.9),(4.36,0.6),
    (4.40,4.7),(4.44,3.2),(4.48,1.3),(4.52,4.1),(4.56,-0.4),(4.60,2.2),(4.63,5.7),(4.67,3.0),(4.71,0.8),(4.75,2.4),
    (4.79,4.8),(4.83,1.4),(4.87,3.9),(4.91,-0.2),
    (5.05,2.0),(5.14,0.3),(5.22,4.2),(5.30,2.4),(5.40,3.3),(5.50,0.2),(5.58,3.9),(5.66,1.5),(5.76,4.4),(5.86,0.9),
    (5.94,2.5),(6.06,3.8),(6.18,0.8),(6.28,4.9),(6.45,2.0),(6.60,3.3),(6.72,1.4),(6.85,4.1),(7.10,1.0),(7.30,2.8),
    (7.60,3.5),(7.80,0.2),(8.10,2.6),(8.35,4.0),(8.60,1.8),(8.85,2.4),(9.30,3.2),(9.70,0.9),(1.50,1.0),(2.00,0.6),
]

# ---- marginal histograms (density-like heights, 40 bins each) ----
sep_edges = np.linspace(0.82, 10.0, 41)
sep_hist_model = [3, 20, 70, 121, 146, 160, 168, 198, 166, 196, 176, 188, 158, 140, 158, 158, 138, 128, 126, 123,
                  125, 128, 108, 110, 88, 83, 83, 78, 88, 81, 60, 75, 52, 63, 60, 52, 48, 52, 50, 48]
sep_hist_yso = [16, 5, 16, 86, 110, 164, 158, 183, 152, 164, 182, 143, 223, 210, 193, 175, 210, 112, 112, 108,
                118, 136, 83, 118, 111, 76, 83, 106, 98, 63, 88, 81, 35, 76, 58, 23, 48, 23, 35, 58]

dmag_edges = np.linspace(-5.14, 9.2, 41)
# listed from the bottom bin (dmag ~ -5) to the top bin (dmag ~ 9)
dmag_hist_model = [0, 3, 6, 1, 6, 20, 21, 24, 51, 56, 85, 76, 106, 116, 141, 166, 181, 200, 204, 216,
                   234, 216, 238, 206, 181, 156, 154, 151, 114, 111, 81, 56, 50, 34, 31, 21, 14, 6, 3, 0]
dmag_hist_yso = [6, 8, 12, 4, 18, 11, 14, 26, 58, 61, 108, 108, 76, 111, 118, 248, 216, 216, 216, 216,
                 208, 208, 208, 181, 181, 148, 151, 154, 161, 104, 76, 46, 34, 28, 18, 14, 12, 3, 0, 8]

# ---- separation histogram in au (log bins) ----
au_edges = np.logspace(3.128, 3.128 + 0.0906 * 29, 30)
best_fit_counts = [0, 1, 0, 0, 0, 1, 2, 5, 6, 9, 23, 40, 52, 81, 99, 95, 105, 65, 64, 42, 23, 11, 1]
yso_counts = [1, 3, 2, 6, 12, 26, 38, 56, 65, 60, 75, 68, 57, 70, 52, 54, 31, 19, 12, 9, 5, 2]
model_all_counts = [0.3, 0.3, 0.3, 1, 0.3, 2, 3, 1, 1, 3, 6, 11, 20, 19, 35, 39, 67, 96, 112, 95,
                    93, 60, 34, 19, 6, 1, 0.3, 0.3, 0.3]

red = "#cc0014"

model_sep, model_dmag = zip(*(model_points + model_points_dense))
yso_sep, yso_dmag = zip(*yso_points)

fig = plt.figure(figsize=(6.27, 8.35), dpi=100)
ax_top = fig.add_axes([0.1, 0.8982, 0.6549, 0.0938])
ax_sc = fig.add_axes([0.1, 0.535, 0.6549, 0.3501])
ax_right = fig.add_axes([0.7751, 0.535, 0.1404, 0.3501])
ax_bot = fig.add_axes([0.114, 0.0571, 0.8896, 0.4072])

# scatter panel
ax_sc.scatter(model_sep, model_dmag, s=28, color="gray", alpha=0.4, edgecolors="none", label="Model")
ax_sc.scatter(yso_sep, yso_dmag, s=38, marker="+", color=red, linewidths=2.0, label="YSOs")
ax_sc.set_xlim(0, 10.78)
ax_sc.set_ylim(-6.28, 10.07)
ax_sc.set_xticks(range(0, 11))
ax_sc.set_yticks(range(-6, 11, 2))
ax_sc.tick_params(labelsize=10.5, length=0)
ax_sc.set_xlabel("Separation (arcsec)", fontsize=11.5)
ax_sc.set_ylabel(r"$\delta$mag", fontsize=11.5)
ax_sc.legend(loc="upper left", fontsize=9.5, handletextpad=0.3)

# top marginal
ax_top.hist(sep_edges[:-1], bins=sep_edges, weights=sep_hist_model, histtype="stepfilled", color="gray", alpha=0.5)
ax_top.hist(sep_edges[:-1], bins=sep_edges, weights=sep_hist_yso, histtype="stepfilled", color=red, alpha=0.5)
ax_top.set_xlim(ax_sc.get_xlim())
ax_top.set_xticks([])
ax_top.set_yticks([])

# right marginal
ax_right.hist(dmag_edges[:-1], bins=dmag_edges, weights=dmag_hist_model, histtype="stepfilled",
              orientation="horizontal", color="gray", alpha=0.5)
ax_right.hist(dmag_edges[:-1], bins=dmag_edges, weights=dmag_hist_yso, histtype="stepfilled",
              orientation="horizontal", color=red, alpha=0.5)
ax_right.set_ylim(ax_sc.get_ylim())
ax_right.set_xticks([])
ax_right.set_yticks([])

# separation histogram in au
ax_bot.hist(au_edges[:23], bins=au_edges[:24], weights=best_fit_counts, color="gray", alpha=0.6,
            edgecolor="white", linewidth=0.8, label="Best fit model")
ax_bot.hist(au_edges[:22], bins=au_edges[:23], weights=yso_counts, color=red, alpha=0.6,
            edgecolor="white", linewidth=0.8, label="Full YSO sample")
ax_bot.hist(au_edges[:-1], bins=au_edges, weights=model_all_counts, histtype="step", color="k", alpha=0.6,
            linestyle="--", linewidth=2, label="Model separations\n(before selection effects)")
ax_bot.set_xscale("log")
ax_bot.set_xlim(1e3, 10 ** 5.89)
ax_bot.tick_params(labelsize=11)
ax_bot.tick_params(axis="x", pad=1.5)
ax_bot.set_xlabel("Separation (au)", fontsize=12, labelpad=2)
ax_bot.set_ylabel("Frequency", fontsize=12)
ax_bot.legend(loc="upper left", fontsize=10.2)

fig.savefig("out.png", dpi=100)
